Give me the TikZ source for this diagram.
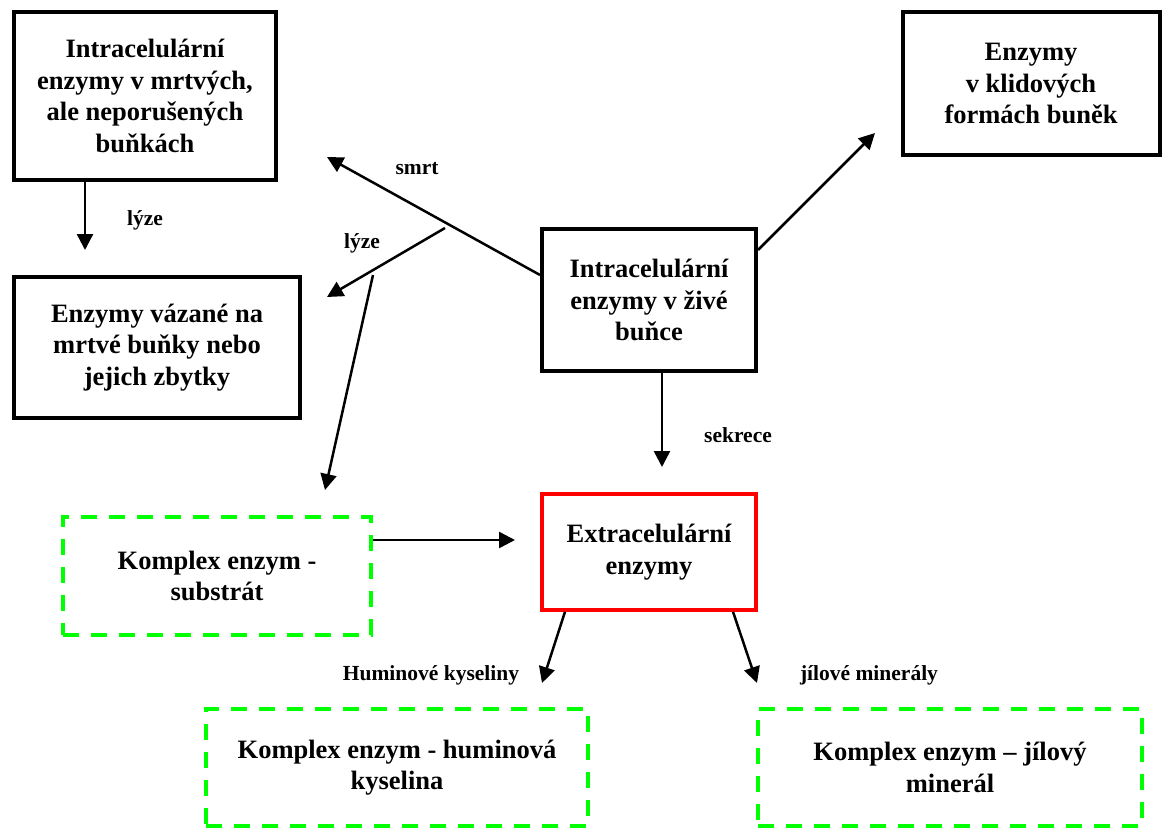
\documentclass[tikz,border=0pt]{standalone}
\usepackage{fontspec}
\setmainfont{Liberation Serif}
\usetikzlibrary{arrows.meta}

\begin{document}
\begin{tikzpicture}[x=1pt,y=-1pt,
  box/.style={draw,line width=4pt,rectangle,inner sep=0pt,align=center,
    font=\fontsize{26.5}{31.5}\selectfont\bfseries},
  redbox/.style={box,draw=red,line width=3.5pt},
  greenbox/.style={box,draw=green,dash pattern=on 16pt off 12pt},
  lbl/.style={font=\fontsize{21.5}{24}\selectfont\bfseries,inner sep=0pt},
  arr/.style={line width=2.5pt,-{Triangle[length=16pt,width=16pt]}}]
\useasboundingbox (0,0) rectangle (1165,830);

% boxes
\node[box,minimum width=262pt,minimum height=168pt] (dead) at (145,96)
  {Intracelulární\\ enzymy v mrtvých,\\ ale neporušených\\ buňkách};
\node[box,minimum width=286pt,minimum height=141pt] (bound) at (157,347.5)
  {Enzymy vázané na\\ mrtvé buňky nebo\\ jejich zbytky};
\node[box,minimum width=257pt,minimum height=143pt] (rest) at (1031,83.5)
  {Enzymy\\ v klidových\\ formách buněk};
\node[box,minimum width=214pt,minimum height=142pt] (live) at (649,300)
  {Intracelulární\\ enzymy v živé\\ buňce};
\node[redbox,minimum width=214pt,minimum height=116pt] (extra) at (649,552)
  {Extracelulární\\ enzymy};
\node[greenbox,minimum width=308pt,minimum height=118pt] (substrate) at (217,576)
  {Komplex enzym -\\ substrát};
\node[greenbox,minimum width=382pt,minimum height=117pt] (humic) at (397,767.5)
  {Komplex enzym - huminová\\ kyselina};
\node[greenbox,minimum width=384pt,minimum height=117pt] (clay) at (950,767.5)
  {Komplex enzym – jílový\\ minerál};

% free ends
\coordinate (lyzeend) at (85,250);
\coordinate (smrtend) at (327,157);
\coordinate (lyzestart) at (445,228);
\coordinate (lyzetip) at (327,297);
\coordinate (substart) at (373,275);
\coordinate (subtip) at (325,490);
\coordinate (restend) at (875,133);
\coordinate (sekreceend) at (662,467);
\coordinate (extraend) at (515,540);
\coordinate (humend) at (542,683);
\coordinate (clayend) at (757,683);

% arrows
\draw[arr] (dead.south -| lyzeend) -- (lyzeend);
\draw[arr] ([yshift=25pt]live.west) -- (smrtend);
\draw[arr] (lyzestart) -- (lyzetip);
\draw[arr] (substart) -- (subtip);
\draw[arr] ([yshift=50pt]live.east) -- (restend);
\draw[arr] (live.south -| sekreceend) -- (sekreceend);
\draw[arr] (substrate.east |- extraend) -- (extraend);
\draw[arr] ([xshift=-84pt]extra.south) -- (humend);
\draw[arr] ([xshift=84pt]extra.south) -- (clayend);

% labels
\node[lbl] (lyze1) at (145,220) {lýze};
\node[lbl] (smrt) at (417,169) {smrt};
\node[lbl] (lyze2) at (362,243) {lýze};
\node[lbl] (sekrece) at (738,435) {sekrece};
\node[lbl] (humlbl) at (431,675) {Huminové kyseliny};
\node[lbl] (claylbl) at (869,675) {jílové minerály};
\end{tikzpicture}
\end{document}
